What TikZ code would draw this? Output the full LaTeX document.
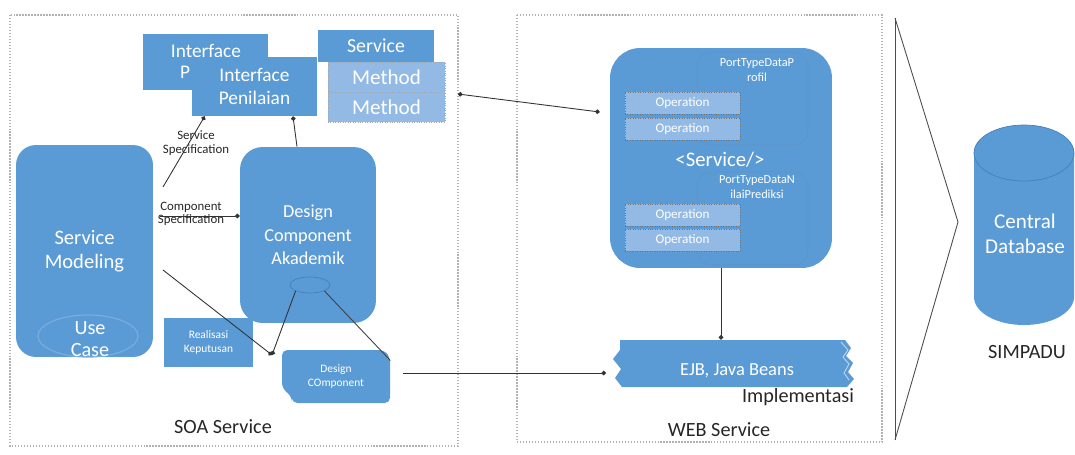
\documentclass[tikz,border=0pt]{standalone}
\usepackage{fontspec}
\setmainfont{Carlito}
\usetikzlibrary{arrows.meta, calc, positioning, shapes.geometric}

\definecolor{boxblue}{RGB}{91,155,213}
\definecolor{lightblue}{RGB}{146,186,228}
\definecolor{edgeblue}{RGB}{68,128,186}

\begin{document}
\begin{tikzpicture}[x=0.02cm, y=-0.02cm,
            block/.style={fill=boxblue, text=white, align=center, inner sep=0pt,
                font=\fontsize{11.5}{13}\selectfont},
            method/.style={block, fill=lightblue, draw=gray!70, densely dotted,
                font=\fontsize{12}{13}\selectfont},
            operation/.style={block, fill=lightblue, draw=black!55, densely dotted,
                minimum width=2.3cm, minimum height=0.44cm, font=\fontsize{7.5}{8}\selectfont},
            tiny label/.style={align=center, inner sep=0pt, text=black!85,
                font=\fontsize{7.3}{7.6}\selectfont},
            caption/.style={inner sep=0pt, text=black!85, font=\fontsize{11.5}{13}\selectfont},
            frame/.style={draw=gray!60, densely dotted, line width=0.7pt},
            dotline/.style={-{Circle[length=2.6pt]}, draw=black!80, line width=0.5pt},
            plainline/.style={draw=black!75, line width=0.5pt}
            ]
            \useasboundingbox (0,0) rectangle (1075,454);

            % frames
            \draw[frame] (10,15) rectangle (458,446);
            \draw[frame] (517,15) rectangle (882,442);

            % SOA service part
            \node[block, minimum width=2.5cm, minimum height=1.12cm] (iback) at (205.5,62) {};
            \node[block, fill=none, font=\fontsize{11}{13}\selectfont] (ibacktext) at (206,51) {Interface};
            \node[block, fill=none, font=\fontsize{11}{13}\selectfont] (ibackp) at (185,72) {P};
            \node[block, minimum width=2.5cm, minimum height=1.18cm, font=\fontsize{11}{13}\selectfont] (ipen) at (254.5,86.5) {Interface\\Penilaian};
            \node[block, minimum width=2.32cm, minimum height=0.64cm, font=\fontsize{11.3}{13}\selectfont] (svc) at (376,46) {Service};
            \node[method, minimum width=2.34cm, minimum height=0.6cm] (meth1) at (386.5,77) {Method};
            \node[method, minimum width=2.34cm, minimum height=0.6cm] (meth2) at (386.5,107) {Method};

            \node[block, rounded corners=0.4cm, minimum width=2.74cm, minimum height=4.24cm,
                font=\fontsize{11.7}{14}\selectfont] (sm) at (84.5,251) {Service\\Modeling};
            \draw[draw=lightblue!55!boxblue, line width=0.7pt] (88,336) ellipse [x radius=50, y radius=21];
            \node[block, fill=none, font=\fontsize{11.5}{12.5}\selectfont] (uc) at (90,339) {Use\\Case};

            \node[block, rounded corners=0.45cm, minimum width=2.72cm, minimum height=3.52cm,
                font=\fontsize{10.4}{13.5}\selectfont] (dca) at (308,235) {Design\\Component\\Akademik};
            \node[draw=edgeblue, fill=boxblue, ellipse, inner sep=0pt, minimum width=0.8cm, minimum height=0.32cm] (dport) at (310,285) {};

            \node[block, minimum width=1.78cm, minimum height=0.98cm, font=\fontsize{6.5}{8}\selectfont] (real) at (208.5,342.5) {Realisasi\\Keputusan};
            \fill[boxblue, rounded corners=3pt] (282,350) -- (384,350) -- (390,357) -- (390,403) -- (292,403) -- (292,397)
                -- (282,388) -- cycle;
            \node[block, fill=none, minimum width=2.16cm, minimum height=1.06cm,
                font=\fontsize{6.5}{8}\selectfont] (dcomp) at (336,376.5) {Design\\COmponent};

            \coordinate (smtop) at (163,187);
            \coordinate (csstart) at (160,216);
            \coordinate (smlow) at (163,270);
            \coordinate (djoin) at (272,355);
            \coordinate (methout) at (458,94);

            \draw[dotline] (smtop) -- ($(ipen.south west)+(13,0)$);
            \node[tiny label] (sspec) at (196,143) {Service\\Specification};
            \draw[dotline] (csstart) -- (dca.west |- csstart);
            \node[tiny label] (cspec) at (191,214) {Component\\Specification};
            \draw[dotline] ($(dca.north)+(-11,0)$) -- ($(ipen.south)+(38.5,0)$);
            \draw[dotline] (smlow) -- (djoin);
            \draw[dotline] (dport.south west) -- (djoin);
            \draw[plainline] (dport.south east) -- ($(dcomp.east)+(0,-16)$);

            \node[caption] (soa) at (223,427) {SOA Service};

            % WEB service part
            \node[block, rounded corners=0.6cm, minimum width=4.44cm, minimum height=4.4cm] (ws) at (721,158) {};
            \draw[draw=edgeblue!85, line width=0.4pt, rounded corners=0.3cm] (697,52) rectangle (808,145);
            \draw[draw=edgeblue!85, line width=0.4pt, rounded corners=0.3cm] (697,172) rectangle (808,265);
            \node[block, fill=none, font=\fontsize{7}{8.5}\selectfont] (pt1) at (757,70) {PortTypeDataP\\rofil};
            \node[block, fill=none, font=\fontsize{7}{8.5}\selectfont] (pt2) at (757,187) {PortTypeDataN\\ilaiPrediksi};
            \node[operation] (op1) at (682.5,103) {Operation};
            \node[operation] (op2) at (682.5,129) {Operation};
            \node[operation] (op3) at (682.5,215) {Operation};
            \node[operation] (op4) at (682.5,240) {Operation};
            \node[block, fill=none, font=\fontsize{11.8}{13}\selectfont] (svctag) at (720,160) {<Service/>};

            \fill[boxblue] (620,340) -- (845,340) -- (851,348) -- (846,356) -- (853,363) -- (848,372) -- (854,379) -- (847,387)
                -- (622,387) -- (615,378) -- (621,369) -- (613,359) -- (620,350) -- cycle;
            \draw[white!60!boxblue, line width=0.5pt] (841,342) -- (848,350) -- (843,357) -- (849,364) -- (844,373) -- (849,380);
            \node[inner sep=0pt, minimum width=4.5cm, minimum height=0.94cm] (ejbbox) at (734,363.5) {};
            \node[block, fill=none, font=\fontsize{10.5}{12.5}\selectfont] (ejb) at (737,371) {EJB, Java Beans};
            \coordinate (ejbin) at (606,373);

            \draw[{Circle[length=2.6pt]}-{Circle[length=2.6pt]}, draw=black!80, line width=0.5pt] (methout) -- ($(ws.west)+(-10,-46)$);
            \draw[dotline] ($(dcomp.east)+(13,-3.5)$) -- (ejbin);
            \draw[dotline] (ws.south) -- (ws.south |- ejbbox.north);

            \node[caption] (impl) at (798,397) {Implementasi};
            \node[caption] (web) at (719,430) {WEB Service};

            % chevron and database
            \draw[draw=black!70, line width=0.5pt] (895,18) -- (895,440);
            \draw[draw=black!70, line width=0.5pt] (895,18) -- (958,222) -- (895,440);

            \fill[boxblue] (974,153) -- (974,297) arc[start angle=180, end angle=0, x radius=50, y radius=28]
                -- (1074,153) arc[start angle=0, end angle=-180, x radius=50, y radius=28] -- cycle;
            \draw[draw=edgeblue, line width=0.4pt] (1024,153) ellipse [x radius=50, y radius=28];
            \node[block, fill=none, font=\fontsize{12}{14}\selectfont] (cdb) at (1025,234) {Central\\Database};
            \node[caption, font=\fontsize{11.5}{13}\selectfont] (simpadu) at (1027,352) {SIMPADU};
        \end{tikzpicture}
\end{document}
